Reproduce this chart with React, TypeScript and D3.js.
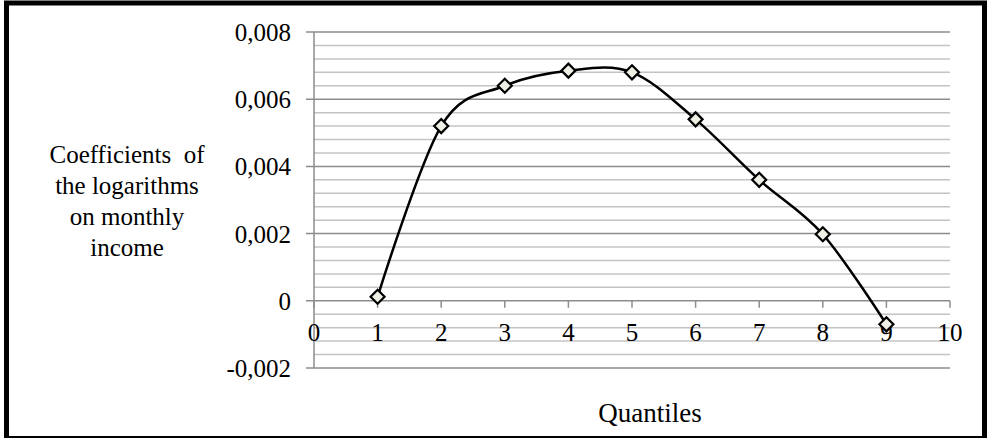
import React from "react";
import * as d3 from "d3";

const quantiles = [1, 2, 3, 4, 5, 6, 7, 8, 9];
const coefficients = [0.00012, 0.0052, 0.0064, 0.00685, 0.0068, 0.0054, 0.0036, 0.00198, -0.0007];
const xTicks = [0, 1, 2, 3, 4, 5, 6, 7, 8, 9, 10];
const yMajorTicks = [-0.002, 0, 0.002, 0.004, 0.006, 0.008];
const yMajorLabels = ["-0,002", "0", "0,002", "0,004", "0,006", "0,008"];
const yTitleLines = ["Coefficients  of", "the logarithms", "on monthly", "income"];
const xTitle = "Quantiles";

const W = 988;
const H = 438;
const FONT = "Liberation Serif, Times New Roman, Tinos, DejaVu Serif, serif";

export default function App() {
  const x = d3.scaleLinear().domain([0, 10]).range([314, 950]);
  const y = d3.scaleLinear().domain([-0.002, 0.008]).range([368, 32]);
  const minorTicks = d3.range(-0.002, 0.00801, 0.0004).filter(
    (v) => !yMajorTicks.some((m) => Math.abs(m - v) < 1e-9)
  );
  const line = d3
    .line<number>()
    .x((_, i) => x(quantiles[i]))
    .y((d) => y(d))
    .curve(d3.curveCardinal.tension(0));
  const pts = coefficients.map((v, i) => [x(quantiles[i]), y(v)]);
  const r = 7;
  const ts = { fontFamily: FONT, whiteSpace: "pre" as const };
  return (
    <svg width={W} height={H} style={{ position: "absolute", left: 0, top: 0, fontFamily: FONT }}>
      <rect x={0} y={0} width={W} height={H} fill="#fff" />
      {minorTicks.map((v, i) => (
        <line key={"mn" + i} x1={314} x2={950} y1={y(v)} y2={y(v)} stroke="#c4c4c4" strokeWidth={1.5} />
      ))}
      {yMajorTicks.map((v, i) => (
        <line key={"mj" + i} x1={306} x2={950} y1={y(v)} y2={y(v)} stroke="#8c8c8c" strokeWidth={1.5} />
      ))}
      <line x1={314} x2={314} y1={y(0.008)} y2={y(-0.002)} stroke="#8c8c8c" strokeWidth={1.5} />
      {xTicks.map((t) => (
        <line key={"xt" + t} x1={x(t)} x2={x(t)} y1={y(0)} y2={y(0) + 7} stroke="#8c8c8c" strokeWidth={1.5} />
      ))}
      {yMajorTicks.map((v, i) => (
        <text key={"yl" + i} x={291} y={y(v) + 9} textAnchor="end" style={ts} fontSize={25} fill="#000">
          {yMajorLabels[i]}
        </text>
      ))}
      {xTicks.map((t) => (
        <text key={"xl" + t} x={x(t)} y={341} textAnchor="middle" style={ts} fontSize={25} fill="#000">
          {t}
        </text>
      ))}
      <path d={line(coefficients) || ""} fill="none" stroke="#000" strokeWidth={2.5} />
      {pts.map(([px, py], i) => (
        <path
          key={"m" + i}
          d={`M${px},${py - r}L${px + r},${py}L${px},${py + r}L${px - r},${py}Z`}
          fill="#efefe6"
          stroke="#000"
          strokeWidth={2.2}
        />
      ))}
      {yTitleLines.map((s, i) => (
        <text key={"yt" + i} x={127} y={163 + i * 31} textAnchor="middle" style={ts} fontSize={25} fill="#000">
          {s}
        </text>
      ))}
      <text x={650} y={422} textAnchor="middle" style={ts} fontSize={27} fill="#000">
        {xTitle}
      </text>
      <rect x={6.5} y={3} width={978} height={435.5} fill="none" stroke="#000" strokeWidth={5} />
    </svg>
  );
}
